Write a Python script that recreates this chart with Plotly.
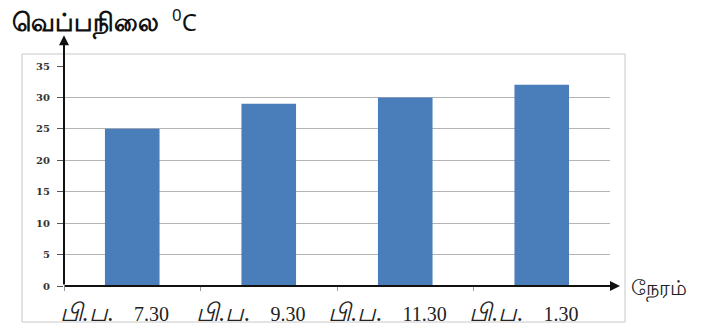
import plotly.graph_objects as go

# Afternoon temperature readings
PREFIX = "<span style='font-size:25px'><i>பி.ப.</i></span>\u00a0\u00a0\u00a0\u00a0"
times = [PREFIX + "7.30", PREFIX + "9.30", PREFIX + "11.30", PREFIX + "1.30"]
temperatures = [25, 29, 30, 32]
y_ticks = [0, 5, 10, 15, 20, 25, 30, 35]

W, H = 702, 330
BAR = "#4a7ebb"
GRID = "#b4b4b4"

fig = go.Figure(go.Bar(
    x=times,
    y=temperatures,
    marker=dict(color=BAR, line=dict(width=0)),
    width=0.4,
))

fig.update_layout(
    width=W, height=H, autosize=False,
    margin=dict(l=0, r=0, t=0, b=0, autoexpand=False),
    paper_bgcolor="white", plot_bgcolor="white",
    showlegend=False,
    xaxis=dict(
        domain=[64 / W, 610 / W],
        automargin=False,
        tickson="boundaries",
        ticks="outside", ticklen=4, tickcolor="#999999",
        showgrid=False, showline=False, zeroline=False,
        tickfont=dict(family="Liberation Serif", size=20, color="#222222"),
        ticklabelshift=-18,
        ticklabelstandoff=14,
    ),
    yaxis=dict(
        domain=[44 / H, 264 / H],
        automargin=False,
        range=[0, 35],
        tickvals=y_ticks,
        ticks="outside", ticklen=6, tickcolor="#555555",
        showgrid=True, gridcolor=GRID, gridwidth=1,
        showline=False, zeroline=False,
        tickfont=dict(family="DejaVu Serif", size=10, color="#333333", weight="bold"),
        ticklabelstandoff=5,
    ),
)

# Outer chart frame
fig.add_shape(type="rect", xref="paper", yref="paper",
              x0=22 / W, x1=625 / W, y0=(H - 322) / H, y1=(H - 54) / H,
              line=dict(color="#c8c8c8", width=1), fillcolor="rgba(0,0,0,0)", layer="below")

# Axis lines with arrowheads
fig.add_annotation(xref="paper", yref="y", x=64 / W, y=39.9,
                   axref="pixel", ayref="y", ax=0, ay=0,
                   showarrow=True, arrowhead=2, arrowsize=1, arrowwidth=2,
                   arrowcolor="#111111", text="", standoff=0)
fig.add_annotation(xref="paper", yref="y", x=620 / W, y=0,
                   axref="pixel", ayref="pixel", ax=-(620 - 63), ay=0,
                   showarrow=True, arrowhead=2, arrowsize=1, arrowwidth=2,
                   arrowcolor="#111111", text="", standoff=0)

# Axis titles
fig.add_annotation(xref="paper", yref="paper", x=10 / W, y=1 - 1 / H,
                   xanchor="left", yanchor="top", showarrow=False,
                   text="<b>வெப்பநிலை</b>\u00a0\u00a0<span style='font-size:24px'><sup>0</sup>C</span>",
                   font=dict(family="Noto Sans", size=25, color="#111111"))
fig.add_annotation(xref="paper", yref="paper", x=629 / W, y=(H - 287) / H,
                   xanchor="left", yanchor="middle", showarrow=False,
                   text="நேரம்",
                   font=dict(family="Noto Sans", size=21, color="#222222"))

fig.write_html("out.html")
